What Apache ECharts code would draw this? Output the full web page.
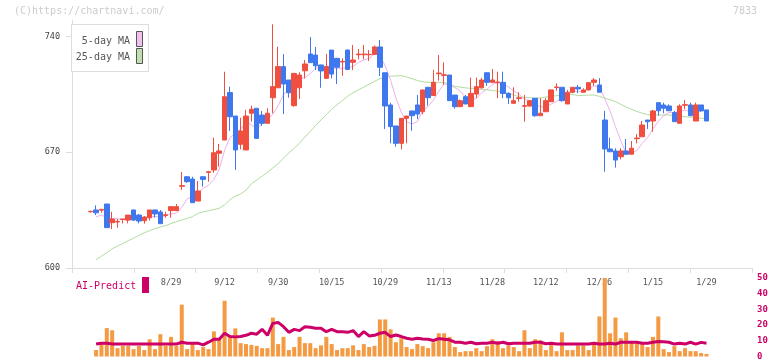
<!DOCTYPE html>
<html><head><meta charset="utf-8">
<script src="https://cdn.jsdelivr.net/npm/echarts@6/dist/echarts.min.js"></script>
<style>html,body{margin:0;padding:0;background:#fff}#c{width:772px;height:361px}</style>
</head><body><div id="c"></div>
<script>
// ---- data ----
const tickLabels = ['8/29','9/12','9/30','10/15','10/29','11/13','11/28','12/12','12/26','1/15','1/29'];
const priceTicks = [600, 670, 740];
const volTicks = [0, 10, 20, 30, 40, 50];
const openP = [634,635.1,635,638.7,627.4,627.8,629.4,629,635.1,632,628.6,630.4,635.1,633.9,631.8,634.7,634.7,649.4,655.2,653.8,640.5,655.2,657.8,659.3,669.4,677.4,706.1,691.9,674.8,671.4,693.6,696.6,692.5,687.5,703,709,721.8,713.7,698.2,709,719.3,729.4,728.8,722.8,714.7,731.8,726.8,724.6,731.8,724.4,729,729,729,729.2,733.7,718.1,698.6,685.9,675.4,690.5,695,698.6,694.5,709.3,704.3,717.5,716.5,716.7,704.6,697.6,703.6,697.6,705.2,709,718.1,712.3,712.1,712.3,705.6,699.6,702.5,697.8,698,702.7,692.1,694.5,700.6,709.1,709.3,699.2,706.3,709.3,706.3,707.7,712.3,710.7,689.5,672,670.8,667.3,670.8,668.8,678.2,679.4,689.5,688.9,700,698.6,698,694,687.5,698.4,698.6,688.9,698.6,695.6];
const closeP = [634.3,633.4,635.5,624.4,629.6,628.2,629.6,632,629,628.4,630.8,635.1,632.7,626.8,632.2,637.1,637.1,649.8,652.2,639.5,646.6,653.6,658.2,669.7,670.8,703.6,691.5,671.4,682.9,691.9,696,678.4,687.5,693.6,709.7,721.8,711.3,706,717.7,716.7,723.4,724.2,722.3,719.2,721.8,717.3,721.4,725,720.1,725.8,729.4,729.4,729.2,733.7,721.4,698,685.5,675.4,690.5,691.9,692.1,693.1,707.7,703,712.3,717.9,716.9,701.2,697.6,701.2,699.2,705.6,709.7,713.7,712.3,713.7,712.5,705.6,703,701.2,702.9,698.2,701.2,692.1,693.6,701.2,707.7,709.5,701.2,706.3,709.3,708.3,707.7,712.1,713.7,706.3,672,670.3,665.3,670.8,668.8,672.4,678.6,686.5,688.5,695,695.1,696.6,695.1,688.5,698,698.8,692.1,698.6,695,688.9];
const lowP = [633.6,632,633.4,624.4,623.6,624.4,627,627,628.4,627,626.8,628.6,630.4,626.8,630.4,630.4,634.7,647.2,651.5,639.5,640.5,649.2,652.2,657.6,661.3,677.4,682.9,659.3,671.8,671.4,688.5,678.4,685.9,687.5,693.6,709,693.1,703,697.6,702.2,714.7,724.2,719.7,709,714.7,714.7,711.3,716.3,719.7,719.7,726.2,726.2,725.2,728.8,716.1,684.1,675.4,673.4,671.8,675.4,683,690.1,693,698.2,704,713.3,710.7,701,696.4,697.6,699.2,697.6,702.7,708.5,710.2,712,702.7,702.7,699.2,699.6,700.6,688.5,697.5,691.5,692.1,694.5,700.6,707.2,700.6,699.2,705.7,705.7,706.3,707.4,710.2,706.3,658.2,670.3,660.7,665.7,668.8,668.8,675.4,679.4,684.1,682.4,692.1,693.6,695,688.5,687.5,696,692.1,688.9,694.5,688.9];
const highP = [634.6,637.9,635.5,638.7,634,629.6,629.6,632,635.3,632.7,631.4,635.1,635.1,635.1,634,637.1,638.7,658.1,655.5,655.2,652.6,655.2,658.8,678.8,675,718.7,709.7,691.9,690.9,695.6,698.2,696.6,695,696.6,747.4,733.8,729.4,713.7,717.7,718.4,725.8,739.7,733.7,723,729.4,731.8,727,726.8,732.2,734.9,732.4,734.9,731.8,734.5,737.9,718.1,700,685.9,690.5,691.9,695,704.6,707.7,709.3,719.8,728.8,724.4,716.7,704.6,702,704.6,715.1,715.1,715,718.1,720.4,718.7,718.7,706.3,709.3,706.3,704.6,701.5,702.7,702.7,702.7,708,711.7,709.3,707.7,709.5,710.7,708.7,712.1,714.8,714.8,695,678.8,672.4,672.4,678,676.8,681,688.9,689.5,695.6,700,700,699,695,699,701.6,700,700,698.6,695.6];
const ma5 = ['-',631,632,630.5,630,629.8,629.5,628.8,629.7,629.4,630,631.1,631.2,630.8,631.5,632.8,633.2,636.6,641.7,643.1,645,648.3,650,653.5,659.8,671.2,678.8,681.4,684,688.3,686.7,684.1,687.3,689.5,693,698.2,704.8,708.5,713.3,714.7,715,717.6,720.9,721.2,722.2,721,720.4,720.9,721.1,721.9,724.3,725.9,726.8,729.5,728.6,722.3,713.6,702.8,694.2,688.3,687.1,688.6,695.1,697.6,701.6,706.8,711.6,710.3,709.2,707,703.2,701,702.7,705.9,708.1,711,712.3,711.5,709.4,707.2,705,702.1,701.2,699,697.5,697.2,699.2,700.8,702.6,705.1,706.8,706.9,706.6,708.7,710.2,709.6,702.4,694.9,685.5,676.9,669.4,669.5,671.1,675.4,678.9,684.2,688.7,692.3,694.1,694.1,694.7,695.4,694.5,695.2,696.5,694.6];
const ma25 = ['-',605,607.2,609.3,611.6,613.2,614.8,616.5,618,619.7,621.3,622.6,623.8,624.9,625.6,626.9,628,629,630,631,633,634,634.6,635.4,636.1,638.2,641.3,643.5,644.8,647.1,650.9,653.2,655.5,657.9,660.5,663.1,666.5,669.6,672.5,675.5,679.2,682.6,686.2,689.5,692.8,696,698.8,701.3,703.9,706,707.8,709.4,711.2,712.9,714.5,715.3,716,716.2,716.3,715.6,714.5,713.4,712.6,712.3,712.2,712.3,712.2,711.2,709.9,709.4,709,708.6,708.3,708,707.8,707.4,707,706.5,705.5,704.6,703.6,703.2,702.9,702.6,702.9,703.4,703.8,704.2,704.6,704.9,705,704.2,704.4,704.6,704.6,703.8,702.8,701.8,700.6,699,697.4,696,694.7,693.6,692.8,692.5,692.5,692.5,692.5,692.3,691.9,691.5,691.2,690.9,690.6,690.4];
const volume = ['-',4.1,9.1,18.1,16.7,5.3,6.8,6.8,4.7,6.8,4.1,11,4.7,14.2,6.8,12.5,6.8,33,4.7,9.1,4.1,6,4.7,16,11,35.5,12.5,17.9,8.5,7.9,7.4,6.8,5.3,5.3,24.8,7.9,12.5,4.1,6,12.5,8.5,8.5,5.3,7.1,12.5,7.9,4.1,5.3,5.3,7.1,4.1,7.9,6,6.8,23.6,23.6,17.3,9.1,11.6,6,4.7,7.9,6.6,5.3,9.1,14.8,14.8,12.5,6,2.8,3.4,3.4,5.3,3.4,6.6,11,9.7,5.3,7.1,6,3.4,16.7,5.3,11,10.3,4.1,7.9,3.4,15.4,4.1,4.1,7.1,7.1,4.1,7.9,25.5,60,14.8,24.8,11.6,15.4,9.1,8.5,8.5,6,12.5,25.5,4.7,2.8,6.6,3.4,5.3,3.4,3.4,2.2,1.6];
const aiPredict = ['-',7.9,8.5,8.5,7.9,7.9,7.9,7.9,7.9,7.9,7.9,7.9,7.9,7.9,7.9,7.9,7.9,9.1,8.5,8.5,8.5,7.4,9.1,11,11,14.8,12.7,12.5,12.7,13.5,14.8,14.2,17.3,13.5,21.1,21.7,19,15.4,17.3,16.5,19,18.6,18,18,15.8,17.3,15.8,15.8,15.4,16.5,12.7,15.8,13.1,13.5,14.8,15.4,12.7,13.7,12.7,11.6,11,11.6,11.2,11,10.2,11.4,11,10.6,9.1,9.1,8.5,9.1,8.1,8.5,8.5,9.1,8.5,9.1,8.1,8.5,8.5,8.5,8.5,9.1,9.1,8.1,8.5,7.9,7.9,7.9,7.9,7.9,7.9,7.9,8.5,7.9,7.9,8.5,7.9,9.1,9.1,9.1,9.1,8.5,8.5,9.1,9.6,9.4,9.1,7.9,8.5,7.9,9.1,7.9,9,8.5];

// ---- layout ----
const LEAD = 3, TRAIL = 8;
const SLOTS = LEAD + openP.length + TRAIL;
const FIRST_LABEL = 18, LABEL_STEP = 10;
const pad = a => [...Array(LEAD).fill('-'), ...a, ...Array(TRAIL).fill('-')];
const cats = Array.from({length: SLOTS}, (_, i) => String(i));
const candles = pad(openP.map((o, i) => [o, closeP[i], lowP[i], highP[i]]));
const MONO = '"DejaVu Sans Mono", monospace';
const UP = '#F04E3E', DOWN = '#3F78EE';
const isLabel = i => i >= FIRST_LABEL && (i - FIRST_LABEL) % LABEL_STEP === 0;

const chart = echarts.init(document.getElementById('c'), null, {renderer: 'canvas'});
chart.setOption({
  animation: false,
  backgroundColor: '#fff',
  grid: [
    {left: 72, right: 20, top: 20, height: 248},
    {left: 72, right: 20, top: 278, height: 80}
  ],
  xAxis: [
    {type: 'category', gridIndex: 0, data: cats, boundaryGap: true,
     axisLine: {show: false}, axisTick: {show: false},
     axisLabel: {interval: (i) => isLabel(i), formatter: (v, i) => isLabel(i) ? tickLabels[(i - FIRST_LABEL) / LABEL_STEP] : '',
       color: '#555', fontFamily: MONO, fontSize: 8.5, margin: 10}},
    {type: 'category', gridIndex: 1, data: cats, boundaryGap: true, show: false},
    {type: 'value', gridIndex: 0, min: 0, max: 11, interval: 1, position: 'bottom',
     axisLine: {show: true, lineStyle: {color: '#ddd'}},
     axisTick: {show: true, length: 5, lineStyle: {color: '#ddd'}},
     axisLabel: {show: false}, splitLine: {show: false}}
  ],
  yAxis: [
    {type: 'value', gridIndex: 0, min: 600, max: 750, scale: true,
     axisLine: {show: true, lineStyle: {color: '#ddd'}},
     axisTick: {show: true, length: 6, customValues: priceTicks, lineStyle: {color: '#ddd'}},
     axisLabel: {customValues: priceTicks, color: '#444', fontFamily: MONO, fontSize: 8.5, margin: 12},
     splitLine: {show: false}},
    {type: 'value', gridIndex: 1, min: 0, max: 50, position: 'right',
     axisLine: {show: false}, axisTick: {show: false}, splitLine: {show: false},
     axisLabel: {customValues: volTicks, color: '#CC0066', fontFamily: MONO, fontSize: 9, fontWeight: 'bold', margin: 5}}
  ],
  series: [
    {type: 'bar', xAxisIndex: 1, yAxisIndex: 1, data: pad(volume), barWidth: 4,
     itemStyle: {color: '#F39A43'}, clip: true, z: 2},
    {type: 'line', xAxisIndex: 1, yAxisIndex: 1, data: pad(aiPredict), symbol: 'none',
     lineStyle: {color: '#CC0066', width: 3}, z: 3},
    {type: 'line', xAxisIndex: 0, yAxisIndex: 0, data: pad(ma25), symbol: 'none',
     lineStyle: {color: '#B2DC9E', width: 1}, z: 2},
    {type: 'line', xAxisIndex: 0, yAxisIndex: 0, data: pad(ma5), symbol: 'none',
     lineStyle: {color: '#EBB2EB', width: 1}, z: 2},
    {type: 'candlestick', xAxisIndex: 0, yAxisIndex: 0, data: candles, barWidth: 5,
     itemStyle: {color: UP, color0: DOWN, borderColor: UP, borderColor0: DOWN, borderWidth: 1}, z: 3}
  ],
  graphic: [
    {type: 'text', left: 14, top: 6, style: {text: '(C)https://chartnavi.com/', fill: '#ccc', font: '10px ' + MONO}},
    {type: 'text', right: 15, top: 6, style: {text: '7833', fill: '#ccc', font: '10px ' + MONO}},
    {type: 'rect', shape: {x: 71.5, y: 24.5, width: 77, height: 47}, style: {fill: '#fff', stroke: '#ddd', lineWidth: 1}, z: 10},
    {type: 'text', x: 130, y: 41, style: {text: '5-day MA', fill: '#555', font: '10px ' + MONO, align: 'right', verticalAlign: 'middle'}, z: 11},
    {type: 'rect', shape: {x: 136.5, y: 31.5, width: 6, height: 15}, style: {fill: '#F0C0F0', stroke: '#555', lineWidth: 1}, z: 11},
    {type: 'text', x: 130, y: 57, style: {text: '25-day MA', fill: '#555', font: '10px ' + MONO, align: 'right', verticalAlign: 'middle'}, z: 11},
    {type: 'rect', shape: {x: 136.5, y: 48.5, width: 6, height: 15}, style: {fill: '#C0E0B0', stroke: '#555', lineWidth: 1}, z: 11},
    {type: 'text', x: 76, y: 286, style: {text: 'AI-Predict', fill: '#CC0066', font: '10px ' + MONO, verticalAlign: 'middle'}, z: 11},
    {type: 'rect', shape: {x: 142, y: 277, width: 7, height: 16}, style: {fill: '#CC0066'}, z: 11}
  ]
});
</script></body></html>
